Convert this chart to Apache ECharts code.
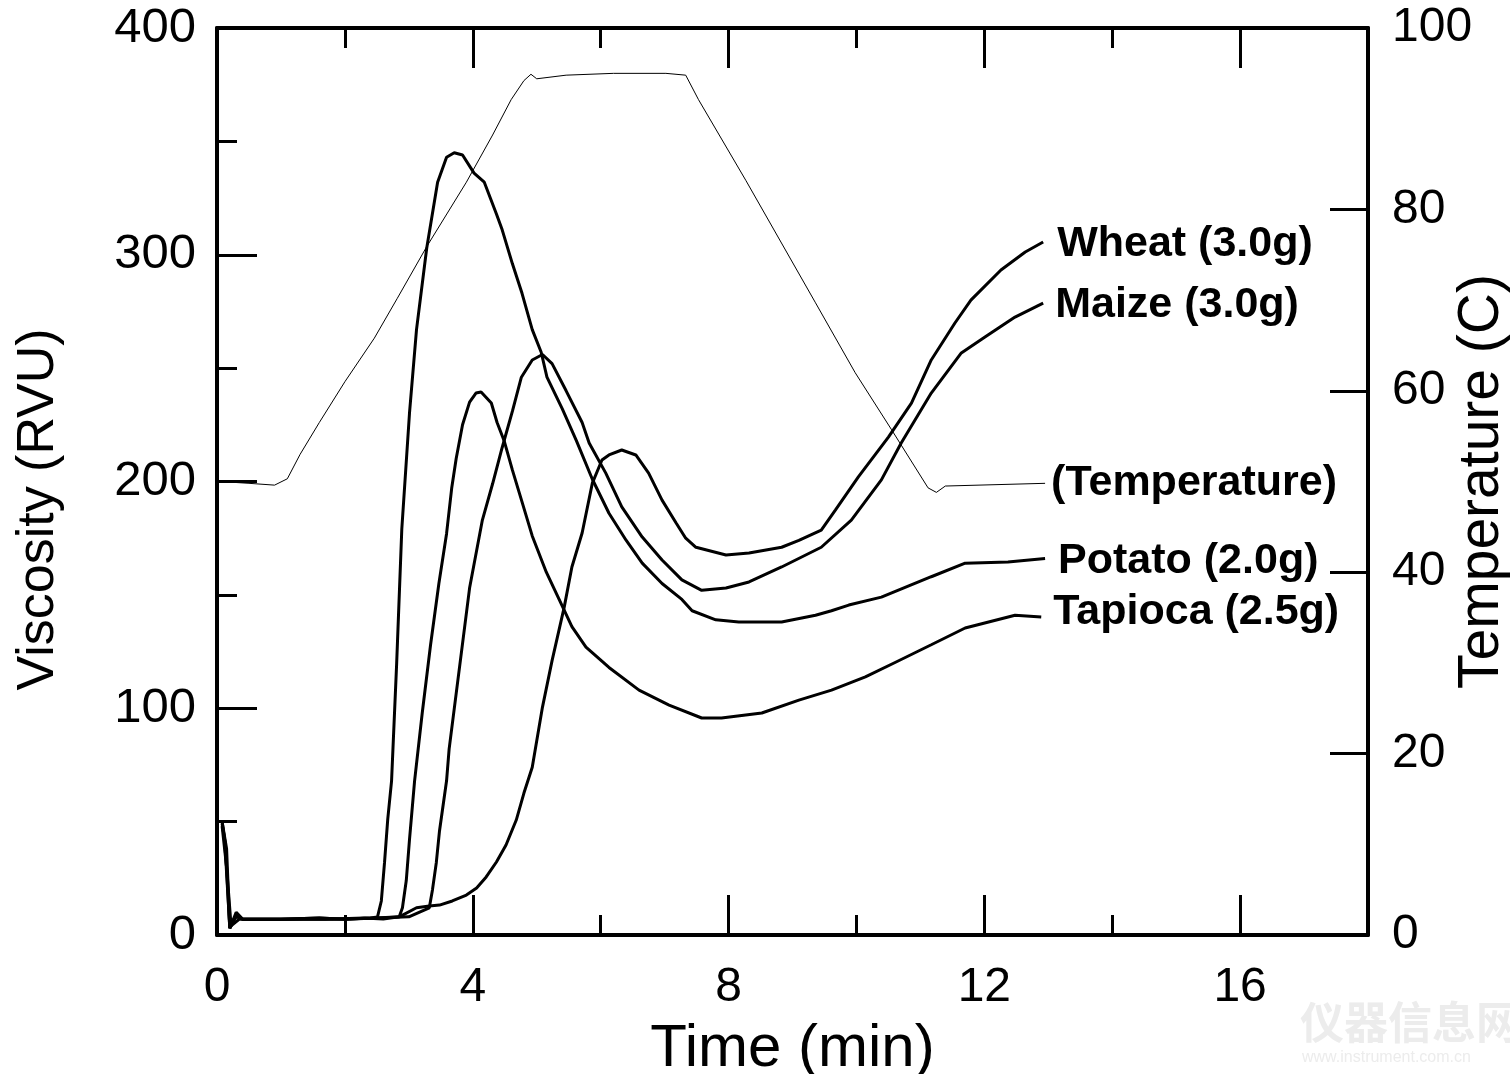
<!DOCTYPE html>
<html>
<head>
<meta charset="utf-8">
<script src="https://cdn.jsdelivr.net/npm/echarts@6.0.0/dist/echarts.min.js"></script>
<style>
html,body{margin:0;padding:0;background:#fff;}
#c{width:1510px;height:1074px;}
</style>
</head>
<body>
<div id="c"></div>
<script>
// ---- data ([time (min), value]) ----
const seriesNames = ['Wheat (3.0g)', 'Maize (3.0g)', '(Temperature)', 'Potato (2.0g)', 'Tapioca (2.5g)'];

const wheat = [[0.08,49],[0.13,40],[0.2,3],[0.3,8],[0.4,7],[1.0,7],[1.6,7.5],[2.0,7],[2.5,7.5],[2.85,8],[3.12,12],[3.32,12.8],[3.48,13.2],[3.68,15],[3.90,17.6],[4.06,20.7],[4.21,25.6],[4.37,32.2],[4.52,39.7],[4.68,50.7],[4.80,62.6],[4.93,74],[5.09,100.5],[5.24,121],[5.43,144.6],[5.55,162.3],[5.71,177.3],[5.87,199.3],[6.02,209.5],[6.13,211.7],[6.33,213.9],[6.55,211.7],[6.75,203.7],[6.96,191.8],[7.18,181.7],[7.33,175],[7.49,171],[7.96,167.6],[8.32,168.5],[8.83,171],[9.10,174],[9.45,178.6],[9.67,187.4],[10.03,202],[10.50,219.6],[10.86,234.6],[11.17,253.6],[11.54,269.9],[11.79,280],[12.26,293.3],[12.64,301.2],[12.92,305.6]];

const maize = [[0.08,48],[0.15,30],[0.22,4],[0.35,7],[1.0,7],[1.8,7],[2.5,7.5],[3.0,8],[3.32,12],[3.37,20],[3.43,32],[3.48,46],[3.59,68],[3.63,82],[3.95,153],[4.15,183],[4.31,199],[4.46,215],[4.62,231],[4.76,246],[4.93,253.6],[5.09,256],[5.24,252],[5.46,240],[5.71,226],[5.82,217],[6.08,203.7],[6.33,188.8],[6.65,175.5],[6.96,165.4],[7.27,156.6],[7.58,152],[7.96,153],[8.32,155.7],[8.83,162.3],[9.45,171],[9.92,183],[10.39,200.7],[10.70,217],[11.17,239],[11.64,256.7],[12.01,263.7],[12.48,272.5],[12.92,278.7]];

const potato = [[0.08,50],[0.12,42],[0.2,3],[0.3,9],[0.4,7],[1.0,7],[1.6,7.5],[2.0,7],[2.4,7.5],[2.51,8],[2.57,15],[2.62,32],[2.67,51],[2.73,68],[2.81,120],[2.89,179],[3.01,230],[3.12,267],[3.28,303],[3.45,332],[3.59,343],[3.71,345],[3.84,344],[4.02,336],[4.18,332],[4.37,318],[4.46,311],[4.62,296],[4.77,283],[4.93,267],[5.07,257],[5.16,246],[5.40,232],[5.62,218],[5.87,201],[6.13,186],[6.40,174],[6.65,164],[6.96,155],[7.27,148],[7.43,143],[7.80,139],[8.16,138],[8.83,138],[9.36,141],[9.61,143],[9.88,145.5],[10.39,149],[11.17,158],[11.70,164],[12.37,164.5],[12.95,166]];

const tapioca = [[0.08,50],[0.15,38],[0.2,3],[0.3,10],[0.4,7],[1.0,7],[1.7,7],[2.3,7.5],[2.6,7],[2.85,8],[2.90,12],[2.96,24],[3.01,42],[3.09,68],[3.21,98],[3.34,128],[3.47,155],[3.59,177],[3.67,197],[3.74,210],[3.84,225],[3.95,235],[4.05,239],[4.13,239.5],[4.29,234.6],[4.38,226],[4.49,218],[4.62,205],[4.77,191],[4.93,176],[5.15,160],[5.40,145],[5.55,136],[5.77,127],[6.13,118],[6.60,108],[7.07,101.4],[7.58,95.7],[7.89,95.7],[8.52,97.9],[9.10,103.6],[9.61,108],[10.14,113.8],[10.62,120.4],[11.17,128],[11.70,135.4],[12.48,141],[12.89,140.2]];

const temperature = [[0.05,50],[0.5,49.8],[0.9,49.6],[1.1,50.3],[1.3,53],[1.6,56.5],[2.0,61],[2.46,65.8],[2.82,70.2],[3.28,75.9],[3.9,83.0],[4.31,88.2],[4.6,92.1],[4.8,94.2],[4.91,94.9],[5.0,94.4],[5.46,94.8],[6.2,95.0],[7.02,95.0],[7.33,94.8],[7.53,92.1],[8.27,83.2],[9.36,69.7],[9.98,62.0],[10.55,55.7],[11.12,49.3],[11.25,48.8],[11.39,49.5],[12.95,49.8]];

const timeLabels = [0, 4, 8, 12, 16];

// ---- chart ----
const FONT = '"Liberation Sans", Arial, sans-serif';
const BLACK = '#000';
const chart = echarts.init(document.getElementById('c'), null, {renderer: 'canvas'});

function xAxisDef(position, interval, tickLen, showLine, showLabel, extra) {
  return Object.assign({
    type: 'value', position: position, min: 0, max: 18, interval: interval,
    axisLine: {show: showLine, onZero: false, lineStyle: {color: BLACK, width: 4}},
    axisTick: {show: true, inside: true, length: tickLen, lineStyle: {color: BLACK, width: 3}},
    axisLabel: {show: showLabel},
    splitLine: {show: false}
  }, extra || {});
}

const endLabel = (name, dist, dy) => ({
  show: true, formatter: name, distance: dist, offset: [0, dy],
  fontSize: 43, fontWeight: 'bold', fontFamily: FONT, color: BLACK
});

function viscSeries(name, data, dist, dy) {
  return {
    name: name, type: 'line', xAxisIndex: 0, yAxisIndex: 0, data: data,
    symbol: 'none', lineStyle: {color: BLACK, width: 3}, silent: true,
    endLabel: endLabel(name, dist, dy)
  };
}

const option = {
  animation: false,
  backgroundColor: '#fff',
  grid: {left: 217, right: 142, top: 28, bottom: 139, containLabel: false, outerBoundsMode: 'none'},
  xAxis: [
    xAxisDef('bottom', 4, 40, true, true, {
      name: 'Time (min)', nameLocation: 'middle', nameGap: 84, nameMoveOverlap: false,
      nameTextStyle: {fontSize: 60, color: BLACK, fontFamily: FONT},
      axisLabel: {show: true, margin: 29, fontSize: 48, color: BLACK, fontFamily: FONT,
        formatter: v => timeLabels.indexOf(v) >= 0 ? String(v) : ''}
    }),
    xAxisDef('bottom', 2, 20, false, false),
    xAxisDef('top', 4, 40, true, false),
    xAxisDef('top', 2, 20, false, false)
  ],
  yAxis: [
    {
      type: 'value', position: 'left', min: 0, max: 400, interval: 100,
      name: 'Viscosity (RVU)', nameLocation: 'middle', nameGap: 152, nameRotate: 90, nameMoveOverlap: false,
      nameTextStyle: {fontSize: 52, color: BLACK, fontFamily: FONT, padding: [0, 56, 0, 0]},
      axisLine: {show: true, onZero: false, lineStyle: {color: BLACK, width: 4}},
      axisTick: {show: true, inside: true, length: 40, lineStyle: {color: BLACK, width: 3}},
      minorTick: {show: true, splitNumber: 2, length: 20, lineStyle: {color: BLACK, width: 3}},
      axisLabel: {margin: 21, fontSize: 49, color: BLACK, fontFamily: FONT},
      splitLine: {show: false}, minorSplitLine: {show: false}
    },
    {
      type: 'value', position: 'right', min: 0, max: 100, interval: 20,
      name: 'Temperature (C)', nameLocation: 'middle', nameGap: 86, nameRotate: 90, nameMoveOverlap: false,
      nameTextStyle: {fontSize: 57, color: BLACK, fontFamily: FONT},
      axisLine: {show: true, onZero: false, lineStyle: {color: BLACK, width: 4}},
      axisTick: {show: true, inside: true, length: 38, lineStyle: {color: BLACK, width: 3}},
      axisLabel: {margin: 24, fontSize: 48, color: BLACK, fontFamily: FONT},
      splitLine: {show: false}
    }
  ],
  series: [
    viscSeries(seriesNames[0], wheat, 14, 2),
    viscSeries(seriesNames[1], maize, 12, 2),
    {
      name: seriesNames[2], type: 'line', xAxisIndex: 0, yAxisIndex: 1, data: temperature,
      symbol: 'none', lineStyle: {color: BLACK, width: 1}, silent: true,
      endLabel: endLabel(seriesNames[2], 6, 0)
    },
    viscSeries(seriesNames[3], potato, 13, 3),
    viscSeries(seriesNames[4], tapioca, 12, -5)
  ],
  graphic: [
    {type: 'text', left: 1300, top: 1000, silent: true,
     style: {text: '仪器信息网', fontSize: 44, fontWeight: 'bold', fontFamily: '"Noto Sans CJK SC", sans-serif', fill: '#ececec'}},
    {type: 'text', left: 1302, top: 1050, silent: true,
     style: {text: 'www.instrument.com.cn', fontSize: 16, fontFamily: FONT, fill: '#ececec'}}
  ]
};
chart.setOption(option);
</script>
</body>
</html>
